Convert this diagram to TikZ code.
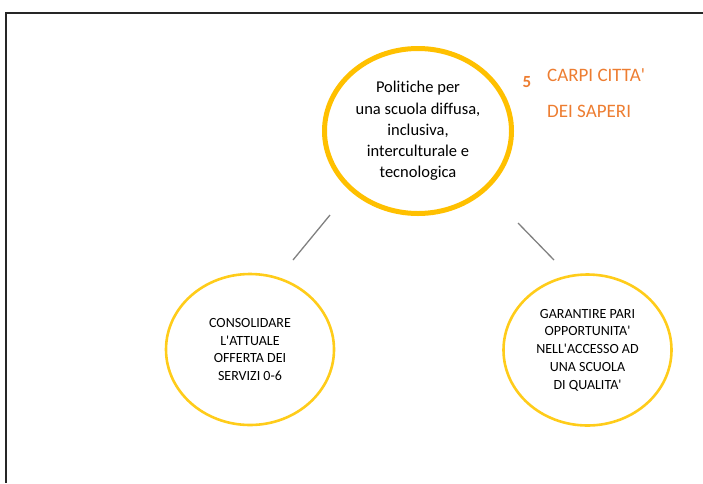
\documentclass[tikz,border=0pt]{standalone}
\usepackage{fontspec}
\setmainfont{Carlito}[Ligatures={TeX,NoCommon}]
\usepackage{tikz}
\usetikzlibrary{shapes.geometric}

\definecolor{gold}{HTML}{FFC000}
\definecolor{goldlight}{HTML}{FFCC1A}
\definecolor{orangetext}{HTML}{ED7D31}

\begin{document}
\begin{tikzpicture}[x=1pt, y=-1pt]
            % Define styles
            \tikzstyle{main} = [ellipse, draw=gold, line width=5pt, minimum width=187pt, minimum height=165pt, inner sep=0pt, align=center, font=\fontsize{16.5}{21.3}\selectfont]
            \tikzstyle{goal} = [ellipse, draw=goldlight, line width=2.6pt, minimum width=168pt, minimum height=151pt, inner sep=0pt, align=center, font=\fontsize{14}{17.8}\selectfont]
            \tikzstyle{title} = [text=orangetext, font=\fontsize{19}{20}\selectfont, inner sep=0pt]
            \tikzstyle{line} = [draw, gray, line width=1.3pt]
            \useasboundingbox (0,0) rectangle (703,483);
            
            % Page frame
            \draw[black!85, line width=1.2pt] (703,13) -- (6,13) -- (6,483);
            
            % Central policy
            \node[main] (pol) at (418,131) {Politiche per\\una scuola diffusa,\\inclusiva,\\interculturale e\\tecnologica};
            
            % Title
            \node[title, font=\fontsize{17}{20}\selectfont\bfseries] (num) at (527,82) {5};
            \node[title, anchor=west] (tit1) at (547,75) {CARPI CITTA\textquotesingle};
            \node[title, anchor=west] (tit2) at (547,111) {DEI SAPERI};
            
            % Goals
            \node[goal] (cons) at (250,349.5) {CONSOLIDARE\\L\textquotesingle ATTUALE\\OFFERTA DEI\\SERVIZI 0-6};
            \node[goal] (gar) at (587.5,350) {GARANTIRE PARI\\OPPORTUNITA\textquotesingle\\NELL\textquotesingle ACCESSO AD\\UNA SCUOLA\\DI QUALITA\textquotesingle};
            
            % Connections
            \coordinate (pl) at (330,215);
            \coordinate (cl) at (293,260);
            \coordinate (pr) at (518,223);
            \coordinate (gr) at (554,260);
            \draw[line] (pl) -- (cl);
            \draw[line] (pr) -- (gr);
        \end{tikzpicture}
\end{document}
